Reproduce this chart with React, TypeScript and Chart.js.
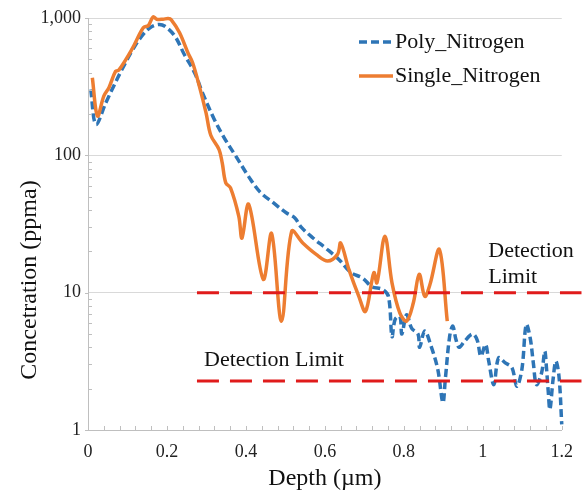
import { useEffect, useRef } from 'react';
import { Chart, registerables } from 'chart.js';

Chart.register(...registerables);

const polyDepth = [
  0.007, 0.02, 0.045, 0.065, 0.086, 0.111, 0.136, 0.157, 0.178, 0.195, 0.22, 0.244, 0.27, 0.29,
  0.319, 0.345, 0.374, 0.407, 0.436, 0.47, 0.503, 0.524, 0.54, 0.57, 0.603, 0.636, 0.666, 0.695,
  0.72, 0.745, 0.761, 0.77, 0.778, 0.79, 0.795, 0.807, 0.82, 0.836, 0.84, 0.853, 0.869, 0.886,
  0.899, 0.905, 0.916, 0.924, 0.932, 0.94, 0.953, 0.974, 0.986, 0.995, 1.007, 1.015, 1.028, 1.04,
  1.057, 1.074, 1.086, 1.099, 1.11, 1.12, 1.128, 1.136, 1.149, 1.157, 1.161, 1.166, 1.17, 1.178,
  1.185, 1.193, 1.2,
];
const polyConc = [
  302, 168, 241, 319, 422, 573, 738, 849, 897, 870, 738, 542, 400, 285,
  185, 134, 99, 70, 54, 45, 38, 35, 30, 25, 21, 17.4, 14, 12.8,
  11, 10.6, 9.4, 4.8, 6.4, 6.7, 5.0, 6.9, 5.5, 5.0, 4.0, 5.25, 4.08, 2.76,
  1.58, 2.33, 4.8, 5.7, 4.56, 4.0, 4.4, 5.0, 4.5, 3.45, 4.19, 3.17, 2.14, 3.35,
  3.08, 2.84, 2.08, 2.76, 5.86, 4.69, 3.08, 2.14, 2.61, 3.75, 2.91, 1.87, 1.41, 2.33,
  3.17, 2.46, 1.1,
];

const singleDepth = [
  0.011, 0.024, 0.04, 0.053, 0.07, 0.078, 0.111, 0.14, 0.153, 0.165, 0.174, 0.19, 0.203, 0.211,
  0.232, 0.253, 0.265, 0.282, 0.299, 0.311, 0.332, 0.34, 0.349, 0.361, 0.382, 0.39, 0.407, 0.444,
  0.465, 0.49, 0.516, 0.544, 0.578, 0.607, 0.632, 0.64, 0.661, 0.686, 0.703, 0.724, 0.732, 0.752,
  0.77, 0.79, 0.807, 0.824, 0.839, 0.853, 0.866, 0.89, 0.91,
];
const singleConc = [
  367, 193, 270, 311, 410, 417, 590, 849, 882, 1020, 980, 980, 990, 970,
  780, 558, 472, 319, 204, 140, 110, 88, 63, 58, 36, 25, 44, 12.5,
  27, 6.2, 28, 23, 19, 17, 19, 23, 14.7, 9.4, 7.3, 14, 11.8, 25.8,
  11.8, 7.1, 6.2, 8.4, 13.6, 9.4, 11.4, 20.6, 6.2,
];

const limitDepth = [0.276, 1.25];
const upperLimit = [10, 10];
const lowerLimit = [2.27, 2.27];

const yTickValues = [1, 10, 100, 1000];
const xTickStep = 0.2;
const xMinorStep = 0.04;

const seriesNames = ['Poly_Nitrogen', 'Single_Nitrogen'];
const limitLabel = 'Detection Limit';
const xTitle = 'Depth (\u00b5m)';
const yTitle = 'Concetration (ppma)';

const FONT = '"Liberation Serif", "Times New Roman", serif';
const BLUE = '#2E75B6';
const ORANGE = '#ED7D31';
const RED = '#E01B1B';

const pts = (xs: number[], ys: number[]) => xs.map((x, i) => ({ x, y: ys[i] }));

const decor = {
  id: 'decor',
  afterDraw(chart: any) {
    const { ctx, chartArea: a, scales } = chart;
    const x = scales.x;
    const y = scales.y;
    ctx.save();
    // minor / major tick marks
    ctx.strokeStyle = '#BFBFBF';
    ctx.lineWidth = 1;
    ctx.beginPath();
    const nx = Math.round(1.2 / xMinorStep);
    for (let i = 0; i <= nx; i++) {
      const px = Math.round(x.getPixelForValue(i * xMinorStep)) + 0.5;
      ctx.moveTo(px, a.bottom);
      ctx.lineTo(px, a.bottom - 4);
    }
    for (const d of [1, 10, 100]) {
      for (let m = 2; m <= 9; m++) {
        const py = Math.round(y.getPixelForValue(d * m)) + 0.5;
        ctx.moveTo(a.left, py);
        ctx.lineTo(a.left + 4, py);
      }
    }
    for (const v of yTickValues) {
      const py = Math.round(y.getPixelForValue(v)) + 0.5;
      ctx.moveTo(a.left - 3, py);
      ctx.lineTo(a.left, py);
    }
    ctx.stroke();

    // annotations
    ctx.fillStyle = '#111';
    ctx.font = `22px ${FONT}`;
    ctx.textBaseline = 'middle';
    ctx.textAlign = 'left';
    ctx.fillText(limitLabel, x.getPixelForValue(0.294), y.getPixelForValue(3.2));
    const parts = limitLabel.split(' ');
    ctx.fillText(parts[0], x.getPixelForValue(1.014), y.getPixelForValue(20));
    ctx.fillText(parts[1], x.getPixelForValue(1.014), y.getPixelForValue(12.9));

    // legend
    const legendSets = [chart.data.datasets[3], chart.data.datasets[2]];
    legendSets.forEach((ds: any, i: number) => {
      const ly = 42 + i * 34;
      ctx.strokeStyle = ds.borderColor;
      ctx.lineWidth = ds.borderWidth;
      ctx.setLineDash(ds.borderDash || []);
      ctx.beginPath();
      ctx.moveTo(359, ly);
      ctx.lineTo(393, ly);
      ctx.stroke();
      ctx.setLineDash([]);
      ctx.fillText(ds.label, 395, ly);
    });

    // axis titles
    ctx.font = `24px ${FONT}`;
    ctx.textAlign = 'center';
    ctx.fillText(xTitle, (a.left + a.right) / 2, 479);
    ctx.translate(30, 280);
    ctx.rotate(-Math.PI / 2);
    ctx.fillText(yTitle, 0, 0);
    ctx.restore();
  },
};

export default function App() {
  const ref = useRef<HTMLCanvasElement | null>(null);
  useEffect(() => {
    if (!ref.current) return;
    const chart = new Chart(ref.current, {
      type: 'line',
      data: {
        datasets: [
          {
            label: limitLabel,
            data: pts(limitDepth, upperLimit),
            borderColor: RED,
            borderWidth: 3,
            borderDash: [22, 11],
            pointRadius: 0,
            clip: false,
            tension: 0,
          } as any,
          {
            label: limitLabel,
            data: pts(limitDepth, lowerLimit),
            borderColor: RED,
            borderWidth: 3,
            borderDash: [22, 11],
            pointRadius: 0,
            clip: false,
            tension: 0,
          },
          {
            label: seriesNames[1],
            data: pts(singleDepth, singleConc),
            borderColor: ORANGE,
            borderWidth: 3.5,
            pointRadius: 0,
            clip: false,
            tension: 0.35,
          },
          {
            label: seriesNames[0],
            data: pts(polyDepth, polyConc),
            borderColor: BLUE,
            borderWidth: 3.5,
            borderDash: [8, 4],
            pointRadius: 0,
            clip: false,
            tension: 0.35,
          },
        ],
      },
      options: {
        animation: false,
        responsive: false,
        maintainAspectRatio: false,
        layout: { padding: { left: 0, top: 18, right: 17, bottom: 0 } },
        plugins: { legend: { display: false }, tooltip: { enabled: false } },
        scales: {
          x: {
            type: 'linear',
            min: 0,
            max: 1.2,
            grid: { display: false, drawTicks: false },
            border: { display: true, color: '#BFBFBF', width: 1 },
            ticks: {
              stepSize: xTickStep,
              padding: 11,
              color: '#222',
              font: { family: FONT, size: 18 },
              callback: (v: any) => String(Math.round(Number(v) * 10) / 10),
            },
            afterFit: (s: any) => {
              s.height = 64;
            },
          },
          y: {
            type: 'logarithmic',
            min: 1,
            max: 1000,
            grid: { color: '#D9D9D9', lineWidth: 1, drawTicks: false },
            border: { display: true, color: '#BFBFBF', width: 1 },
            afterBuildTicks: (s: any) => {
              s.ticks = yTickValues.map((v) => ({ value: v }));
            },
            ticks: {
              padding: 7,
              color: '#222',
              font: { family: FONT, size: 18 },
              autoSkip: false,
              callback: (v: any) => Number(v).toLocaleString('en-US'),
            },
            afterFit: (s: any) => {
              s.width = 88;
            },
          },
        },
      },
      plugins: [decor],
    });
    return () => chart.destroy();
  }, []);
  return (
    <div style={{ position: 'fixed', left: 0, top: 0, width: 584, height: 494, background: '#fff' }}>
      <canvas ref={ref} width={584} height={494} />
    </div>
  );
}
